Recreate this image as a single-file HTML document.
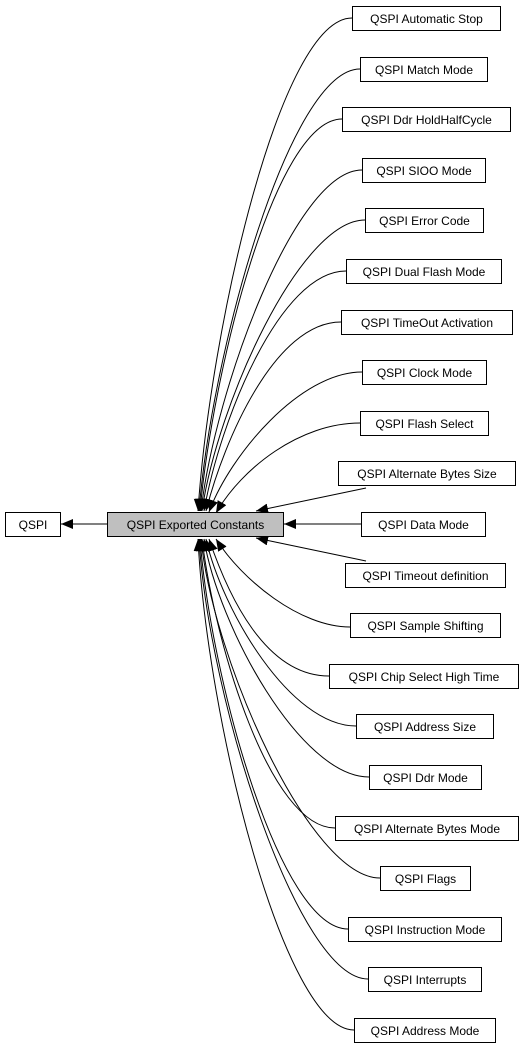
<!DOCTYPE html>
<html><head><meta charset="utf-8"><style>
html,body{margin:0;padding:0;background:#fff;}
svg{display:block;}
text{font-family:"Liberation Sans",sans-serif;font-size:12px;fill:#000;}
</style></head><body>
<svg width="527" height="1051" viewBox="0 0 527 1051" xmlns="http://www.w3.org/2000/svg">
<defs>
<marker id="a" markerUnits="userSpaceOnUse" markerWidth="14" markerHeight="12" refX="12" refY="5" orient="auto">
<path d="M0,0 L12,5 L0,10 Z" fill="#000"/>
</marker>
</defs>
<g fill="none" stroke="#000" stroke-width="1" marker-end="url(#a)">
<path d="M107,524 L61,524"/>
<path d="M352,18 C280,18 210,330 198,511"/>
<path d="M360,69 C290,69 212,350 199,511"/>
<path d="M342,119 C275,119 213,370 200,511"/>
<path d="M362,170 C295,170 215,390 201,511"/>
<path d="M365,220 C300,220 217,405 202,511"/>
<path d="M346,271 C280,271 220,420 204,511"/>
<path d="M341,322 C275,322 224,440 206,511"/>
<path d="M362,372 C300,372 230,455 209,512"/>
<path d="M360,423 C300,423 242,468 216,513"/>
<path d="M366,488 L256,511"/>
<path d="M361,524 L284,524"/>
<path d="M366,561 L256,538"/>
<path d="M350,627 C300,627 242,580 216,539"/>
<path d="M329,676 C265,676 228,595 209,539"/>
<path d="M356,726 C290,726 222,610 206,539"/>
<path d="M369,777 C300,777 218,625 204,539"/>
<path d="M335,828 C270,828 215,645 202,539"/>
<path d="M380,878 C310,878 213,660 201,539"/>
<path d="M348,929 C280,929 211,680 200,539"/>
<path d="M368,979 C298,979 209,700 199,539"/>
<path d="M354,1030 C284,1030 207,720 198,539"/>
</g>
<g stroke="#000" stroke-width="1" fill="#fff">
<rect x="5.5" y="512.5" width="55" height="24"/>
<rect x="107.5" y="512.5" width="176" height="24" fill="#bfbfbf"/>
<rect x="352.5" y="6.5" width="148" height="24"/>
<rect x="360.5" y="57.5" width="127" height="24"/>
<rect x="342.5" y="107.5" width="168" height="24"/>
<rect x="362.5" y="158.5" width="123" height="24"/>
<rect x="365.5" y="208.5" width="118" height="24"/>
<rect x="346.5" y="259.5" width="155" height="24"/>
<rect x="341.5" y="310.5" width="171" height="24"/>
<rect x="362.5" y="360.5" width="124" height="24"/>
<rect x="360.5" y="411.5" width="128" height="24"/>
<rect x="338.5" y="461.5" width="177" height="24"/>
<rect x="361.5" y="512.5" width="124" height="24"/>
<rect x="345.5" y="563.5" width="160" height="24"/>
<rect x="350.5" y="613.5" width="150" height="24"/>
<rect x="329.5" y="664.5" width="189" height="24"/>
<rect x="356.5" y="714.5" width="137" height="24"/>
<rect x="369.5" y="765.5" width="112" height="24"/>
<rect x="335.5" y="816.5" width="183" height="24"/>
<rect x="380.5" y="866.5" width="90" height="24"/>
<rect x="348.5" y="917.5" width="153" height="24"/>
<rect x="368.5" y="967.5" width="113" height="24"/>
<rect x="354.5" y="1018.5" width="141" height="24"/>
</g>
<g text-anchor="middle">
<text x="33" y="529">QSPI</text>
<text x="195.5" y="529">QSPI Exported Constants</text>
<text x="426.5" y="23">QSPI Automatic Stop</text>
<text x="424" y="74">QSPI Match Mode</text>
<text x="426.5" y="124">QSPI Ddr HoldHalfCycle</text>
<text x="424" y="175">QSPI SIOO Mode</text>
<text x="424.5" y="225">QSPI Error Code</text>
<text x="424" y="276">QSPI Dual Flash Mode</text>
<text x="427" y="327">QSPI TimeOut Activation</text>
<text x="424.5" y="377">QSPI Clock Mode</text>
<text x="424.5" y="428">QSPI Flash Select</text>
<text x="427" y="478">QSPI Alternate Bytes Size</text>
<text x="423.5" y="529">QSPI Data Mode</text>
<text x="425.5" y="580">QSPI Timeout definition</text>
<text x="425.5" y="630">QSPI Sample Shifting</text>
<text x="424" y="681">QSPI Chip Select High Time</text>
<text x="425" y="731">QSPI Address Size</text>
<text x="425.5" y="782">QSPI Ddr Mode</text>
<text x="427" y="833">QSPI Alternate Bytes Mode</text>
<text x="425.5" y="883">QSPI Flags</text>
<text x="425" y="934">QSPI Instruction Mode</text>
<text x="425" y="984">QSPI Interrupts</text>
<text x="425" y="1035">QSPI Address Mode</text>
</g>
</svg>
</body></html>
